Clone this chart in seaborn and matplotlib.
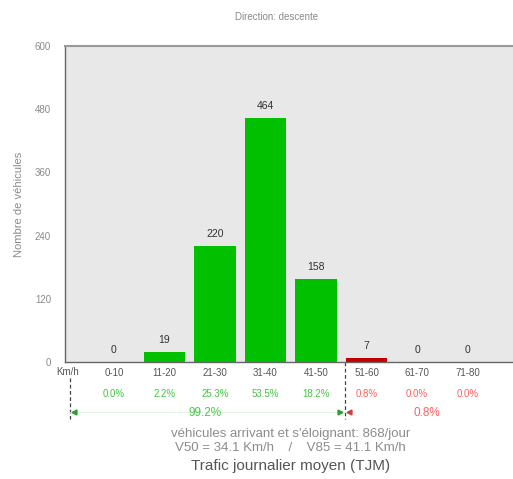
import numpy as np
import matplotlib
matplotlib.use('Agg')
import matplotlib.pyplot as plt
import seaborn as sns

# data
classes = ['0-10', '11-20', '21-30', '31-40', '41-50', '51-60', '61-70', '71-80']
counts = [0, 19, 220, 464, 158, 7, 0, 0]
percents = ['0.0%', '2.2%', '25.3%', '53.5%', '18.2%', '0.8%', '0.0%', '0.0%']
over_limit = [False, False, False, False, False, True, True, True]
y_ticks = [0, 120, 240, 360, 480, 600]
share_under = '99.2%'
share_over = '0.8%'
total_per_day = 868
v50 = 34.1
v85 = 41.1

GREEN = '#00c000'
RED = '#c00000'
GRAY = '#8a8a8a'

sns.set_style('white')
plt.rcParams['font.family'] = ['Liberation Sans', 'DejaVu Sans']

fig = plt.figure(figsize=(5.13, 4.79), dpi=100)
ax = fig.add_axes([0.1267, 0.2443, 0.8733, 0.6597])
ax.set_facecolor('#e8e8e8')

colors = [RED if o else GREEN for o in over_limit]
sns.barplot(x=classes, y=counts, hue=classes, palette=colors, legend=False,
            width=0.83, saturation=1, linewidth=0, ax=ax)

for i, c in enumerate(counts):
    ax.annotate(str(c), (i, c), xytext=(0, 5), textcoords='offset points',
                ha='center', va='bottom', fontsize=7.5, color='#333333')

ax.set_xlim(-0.97, 7.9)
ax.set_ylim(0, 600)
ax.set_yticks(y_ticks)
ax.tick_params(axis='y', labelsize=7, labelcolor=GRAY, direction='in',
               length=3, color='#777777', pad=10)
ax.tick_params(axis='x', labelsize=7, labelcolor='#555555', direction='in',
               length=3, color='#777777', pad=4)
ax.set_xlabel('')
ax.set_ylabel('Nombre de véhicules', fontsize=8, color=GRAY, labelpad=8)

for side in ['left', 'bottom']:
    ax.spines[side].set_color('#666666')
    ax.spines[side].set_linewidth(1)
ax.spines['top'].set_color('#999999')
ax.spines['top'].set_linewidth(1.5)
ax.spines['right'].set_visible(False)

trans = ax.get_xaxis_transform()
ax.text(-0.92, -0.032, 'Km/h', transform=trans, fontsize=7, color='#555555',
        ha='center', va='center')

for i, p in enumerate(percents):
    ax.text(i, -0.1, p, transform=trans, fontsize=7, ha='center', va='center',
            color='#ff6060' if over_limit[i] else '#40c840')

# split between allowed speeds and excess
x_left = -0.87
x_split = 4.58
ax.plot([x_left, x_left], [-0.05, -0.18], transform=trans, clip_on=False,
        color='#444444', lw=0.9, ls=(0, (3, 2)))
ax.plot([x_split, x_split], [0, -0.18], transform=trans, clip_on=False,
        color='#444444', lw=0.9, ls=(0, (3, 2)))
ax.plot([x_left, x_split], [-0.158, -0.158], transform=trans, clip_on=False,
        color='#e4f4e4', lw=0.8)
ax.plot([x_left + 0.08], [-0.158], transform=trans, clip_on=False,
        marker='<', color='#2e9e2e', ms=3.5)
ax.plot([x_split - 0.1], [-0.158], transform=trans, clip_on=False,
        marker='>', color='#2e9e2e', ms=3.5)
ax.plot([x_split + 0.08], [-0.158], transform=trans, clip_on=False,
        marker='<', color='#d04040', ms=3.5)
ax.text((x_left + x_split) / 2 - 0.05, -0.162, share_under, transform=trans,
        fontsize=8.5, color='#44cc44', ha='center', va='center')
ax.text(6.2, -0.162, share_over, transform=trans,
        fontsize=8.5, color='#ff6060', ha='center', va='center')

fig.text(0.54, 0.965, 'Direction: descente', fontsize=7, color=GRAY, ha='center', va='center')
fig.text(0.567, 0.094, f"véhicules arrivant et s'éloignant: {total_per_day}/jour",
         fontsize=9.5, color='#8c8c8c', ha='center', va='center')
fig.text(0.567, 0.064, f'V50 = {v50} Km/h    /    V85 = {v85} Km/h',
         fontsize=9.5, color='#8c8c8c', ha='center', va='center')
fig.text(0.567, 0.027, 'Trafic journalier moyen (TJM)',
         fontsize=11, color='#555555', ha='center', va='center')

fig.savefig('out.png', dpi=100)
